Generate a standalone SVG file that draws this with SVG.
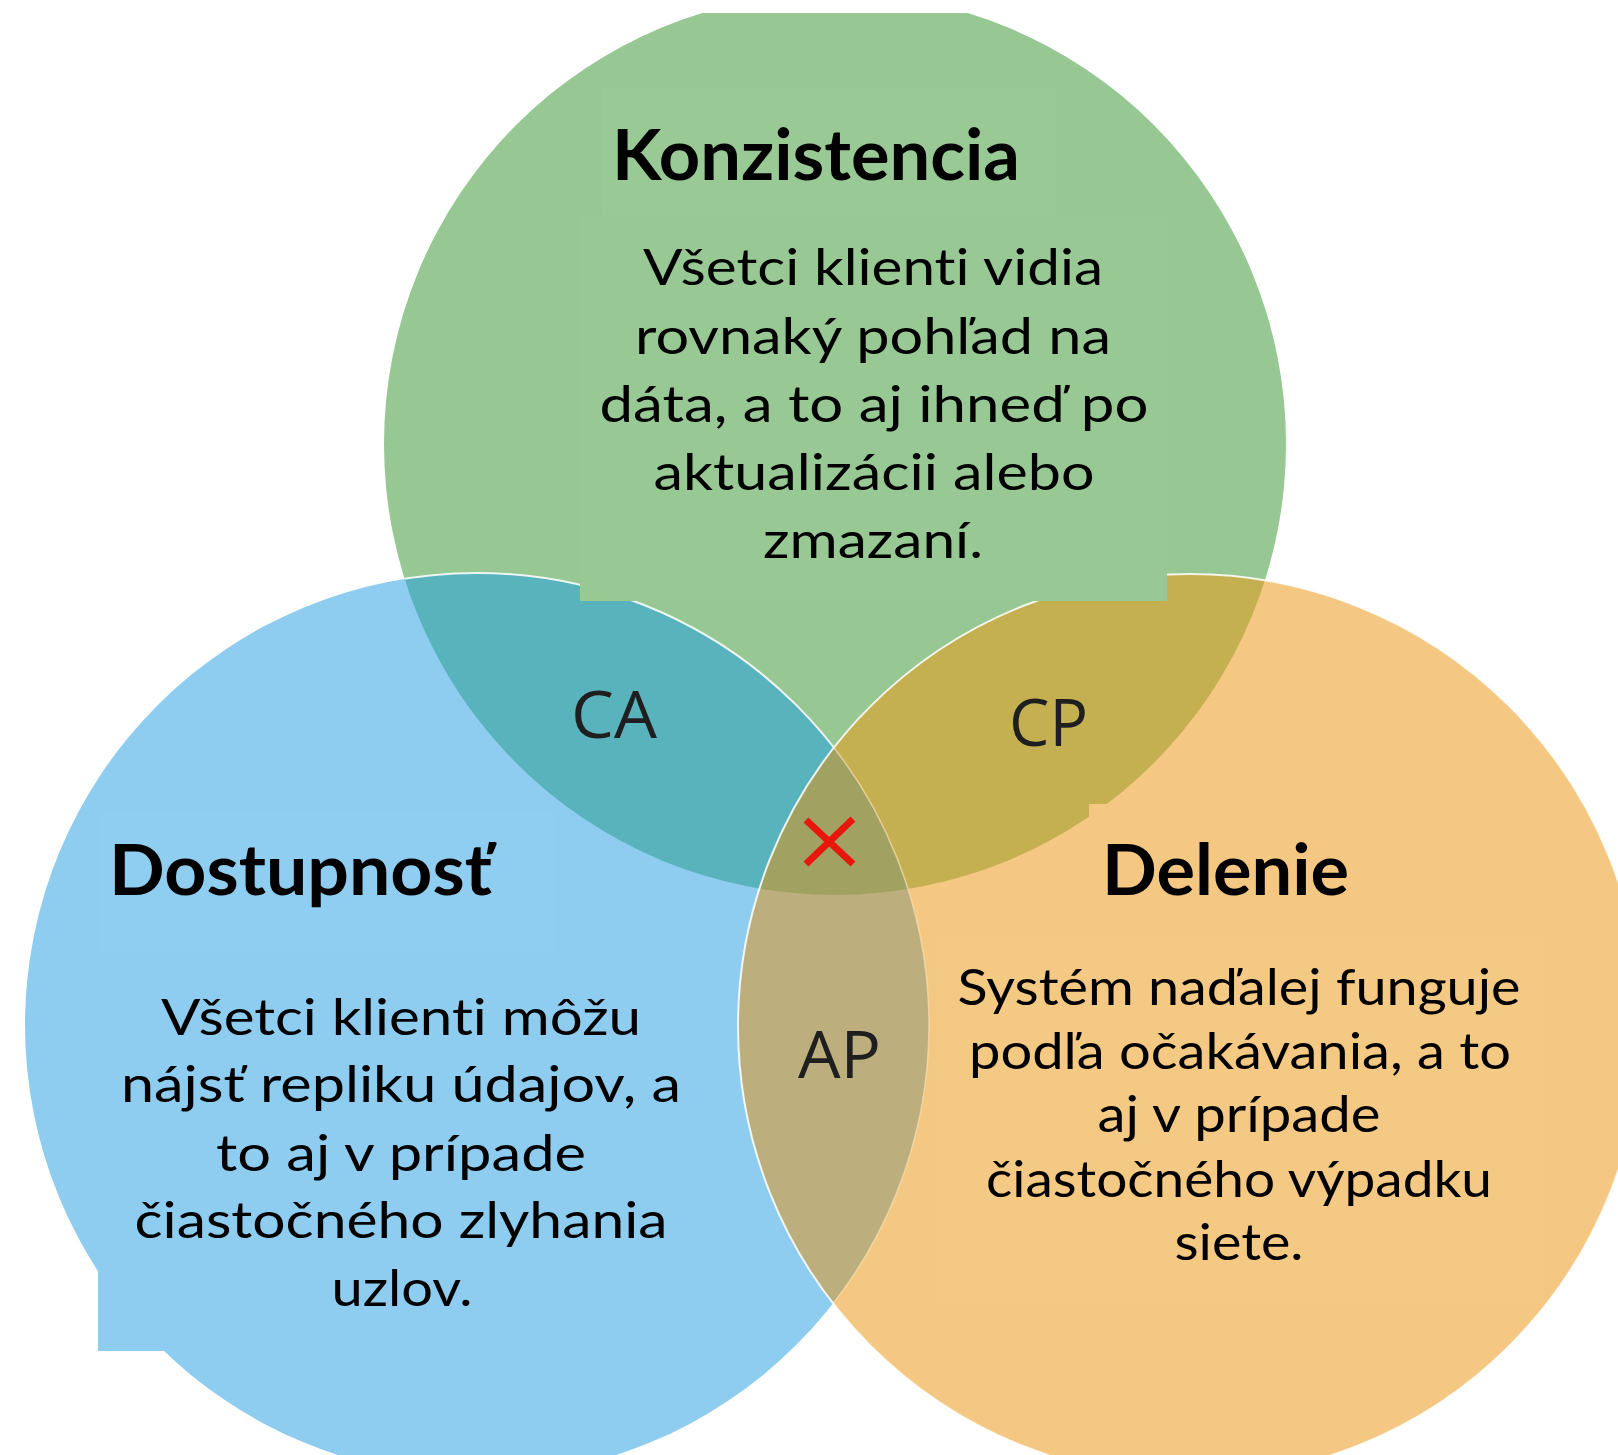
<svg xmlns="http://www.w3.org/2000/svg" width="1618" height="1455" viewBox="0 0 1618 1455">
  <defs>
    <clipPath id="crop"><rect x="0" y="13" width="1618" height="1442"/></clipPath>
    <clipPath id="clipG"><circle cx="835" cy="444" r="451"/></clipPath>
    <clipPath id="clipB"><circle cx="477" cy="1025" r="452"/></clipPath>
    <clipPath id="clipO"><circle cx="1190" cy="1026" r="452"/></clipPath>
    <style>
      text { font-variant-ligatures: none; font-feature-settings: "liga" 0, "clig" 0; }
      .body { font-family: Lato, "Liberation Sans", "DejaVu Sans", sans-serif; font-size: 51px; fill: #000; text-anchor: middle; }
      .title { font-family: Lato, "Liberation Sans", "DejaVu Sans", sans-serif; font-size: 71px; font-weight: bold; fill: #000; }
      .lbl { font-family: "Open Sans", "Noto Sans", "DejaVu Sans", sans-serif; font-size: 66px; fill: #1f1f1f; }
      .edge { fill: none; stroke: #ffffff; stroke-width: 2; stroke-opacity: 0.85; }
    </style>
  </defs>
  <rect width="1618" height="1455" fill="#ffffff"/>
  <g clip-path="url(#crop)">
    <g id="venn">
      <circle cx="835" cy="444" r="451" fill="#97C894"/>
      <circle cx="477" cy="1025" r="452" fill="#8ECDF0"/>
      <circle cx="477" cy="1025" r="452" fill="#59B3BC" clip-path="url(#clipG)"/>
      <circle cx="477" cy="1025" r="452" class="edge" clip-path="url(#clipG)"/>
      <circle cx="1190" cy="1026" r="452" fill="#F4C882"/>
      <circle cx="1190" cy="1026" r="452" fill="#C4B050" clip-path="url(#clipG)"/>
      <circle cx="1190" cy="1026" r="452" fill="#BCAF7D" clip-path="url(#clipB)"/>
      <g clip-path="url(#clipG)">
        <circle cx="1190" cy="1026" r="452" fill="#A1A262" clip-path="url(#clipB)"/>
      </g>
      <circle cx="477" cy="1025" r="452" fill="none" stroke="#F8DDB0" stroke-width="1.5" stroke-opacity="0.7" clip-path="url(#clipO)"/>
      <circle cx="1190" cy="1026" r="452" class="edge"/>
    </g>
  </g>

  <g id="konzistencia">
    <rect x="602" y="88" width="454" height="126" fill="#99CA96"/>
    <rect x="580" y="214" width="587" height="387" fill="#98C995"/>
    <text class="title" x="612" y="180" textLength="408" lengthAdjust="spacingAndGlyphs">Konzistencia</text>
    <text class="body" x="873" y="285" textLength="460" lengthAdjust="spacingAndGlyphs">Všetci klienti vidia</text>
    <text class="body" x="873" y="354" textLength="476" lengthAdjust="spacingAndGlyphs">rovnaký pohľad na</text>
    <text class="body" x="874" y="422" textLength="549" lengthAdjust="spacingAndGlyphs">dáta, a to aj ihneď po</text>
    <text class="body" x="874" y="490" textLength="441" lengthAdjust="spacingAndGlyphs">aktualizácii alebo</text>
    <text class="body" x="873" y="558" textLength="220" lengthAdjust="spacingAndGlyphs">zmazaní.</text>
  </g>

  <g id="dostupnost">
    <rect x="98" y="811" width="456" height="143" fill="#8FCEF0"/>
    <rect x="98" y="954" width="587" height="397" fill="#8ECDF0"/>
    <text class="title" x="109" y="895" textLength="383" lengthAdjust="spacingAndGlyphs">Dostupnosť</text>
    <text class="body" x="401" y="1035" textLength="480" lengthAdjust="spacingAndGlyphs">Všetci klienti môžu</text>
    <text class="body" x="401" y="1102" textLength="560" lengthAdjust="spacingAndGlyphs">nájsť repliku údajov, a</text>
    <text class="body" x="401" y="1171" textLength="370" lengthAdjust="spacingAndGlyphs">to aj v prípade</text>
    <text class="body" x="401" y="1238" textLength="533" lengthAdjust="spacingAndGlyphs">čiastočného zlyhania</text>
    <text class="body" x="402" y="1306" textLength="141" lengthAdjust="spacingAndGlyphs">uzlov.</text>
  </g>

  <g id="delenie">
    <rect x="1089" y="804" width="454" height="133" fill="#F4C883"/>
    <rect x="936" y="937" width="607" height="367" fill="#F4C984"/>
    <text class="title" x="1102" y="895" textLength="247" lengthAdjust="spacingAndGlyphs">Delenie</text>
    <text class="body" x="1239" y="1005" textLength="563" lengthAdjust="spacingAndGlyphs">Systém naďalej funguje</text>
    <text class="body" x="1240" y="1069" textLength="542" lengthAdjust="spacingAndGlyphs">podľa očakávania, a to</text>
    <text class="body" x="1239" y="1132" textLength="283" lengthAdjust="spacingAndGlyphs">aj v prípade</text>
    <text class="body" x="1239" y="1197" textLength="506" lengthAdjust="spacingAndGlyphs">čiastočného výpadku</text>
    <text class="body" x="1239" y="1260" textLength="129" lengthAdjust="spacingAndGlyphs">siete.</text>
  </g>

  <g id="labels">
    <text class="lbl" x="571" y="738" textLength="86" lengthAdjust="spacingAndGlyphs">CA</text>
    <text class="lbl" x="1009" y="746" textLength="79" lengthAdjust="spacingAndGlyphs">CP</text>
    <text class="lbl" x="798" y="1078" textLength="83" lengthAdjust="spacingAndGlyphs">AP</text>
  </g>

  <g id="conflict">
    <path d="M806 820 L853 864 M853 819 L806 864" fill="none" stroke="#E8170E" stroke-width="7"/>
  </g>
</svg>
